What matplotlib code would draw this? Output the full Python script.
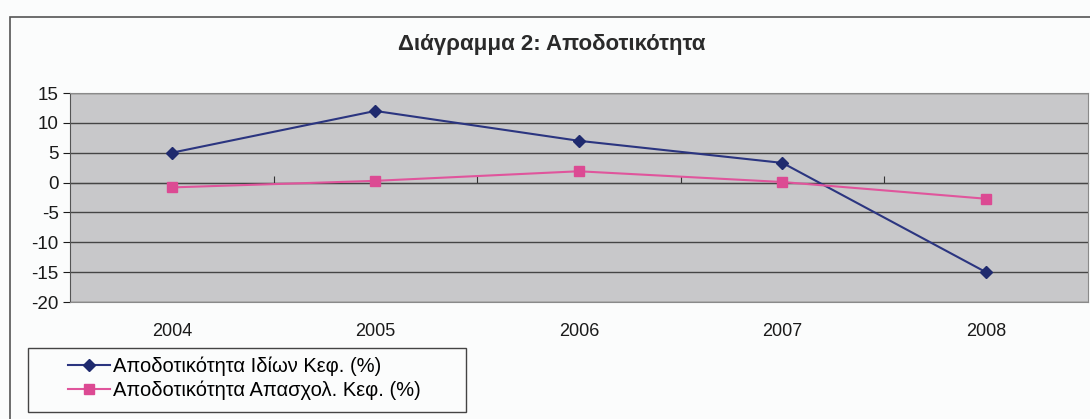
import matplotlib
matplotlib.use("Agg")
import matplotlib.pyplot as plt
from matplotlib.patches import Rectangle

plt.rcParams["font.family"] = ["Liberation Sans", "DejaVu Sans"]
plt.rcParams["axes.unicode_minus"] = False

years = ["2004", "2005", "2006", "2007", "2008"]
roe = [5.0, 12.0, 7.0, 3.3, -15.0]
roce = [-0.8, 0.3, 1.9, 0.1, -2.7]
series_labels = ["Αποδοτικότητα Ιδίων Κεφ. (%)", "Αποδοτικότητα Απασχολ. Κεφ. (%)"]
title = "Διάγραμμα 2: Αποδοτικότητα"
yticks = [15, 10, 5, 0, -5, -10, -15, -20]

fig = plt.figure(figsize=(10.9, 4.19), dpi=100)
fig.patch.set_facecolor("#fbfcfc")
ax = fig.add_axes([0.0642, 0.279, 0.9338, 0.499])
ax.set_facecolor("#c8c8ca")

x = list(range(len(years)))
ax.plot(x, roe, color="#2b3580", lw=1.5, marker="D", ms=6, mfc="#1f2a6e", mec="#1f2a6e",
        label=series_labels[0])
ax.plot(x, roce, color="#e0559c", lw=1.5, marker="s", ms=6.5, mfc="#dc4a93", mec="#dc4a93",
        label=series_labels[1])

ax.set_xlim(-0.5, len(years) - 0.5)
ax.set_ylim(min(yticks), max(yticks))
ax.set_yticks(yticks)
ax.yaxis.grid(True, color="#454545", lw=1.0)
ax.set_axisbelow(True)
ax.set_xticks(x)
ax.set_xticklabels(years)
ax.tick_params(axis="x", length=0, labelsize=13, pad=15, colors="#1a1a1a")
ax.tick_params(axis="y", length=5, labelsize=13.5, colors="#1a1a1a", width=0.8, pad=3)
for side in ["top", "right", "bottom"]:
    ax.spines[side].set_color("#8a8a8a")
    ax.spines[side].set_linewidth(0.8)
ax.spines["left"].set_color("#555555")

# category axis crossing at zero, with ticks between categories
zero_frac = (0 - min(yticks)) / (max(yticks) - min(yticks))
sec = ax.secondary_xaxis(zero_frac)
sec.set_xticks([i + 0.5 for i in x[:-1]])
sec.set_xticklabels([])
sec.tick_params(direction="out", length=5, color="#333333", width=0.8)
sec.spines["bottom"].set_visible(False)

fig.text(0.506, 0.893, title, ha="center", va="center", fontsize=16, fontweight="bold",
         color="#2a2a2a")

# legend entries without frame, box drawn separately (Excel-style wide box)
leg = fig.legend(loc="lower left", bbox_to_anchor=(0.062, 0.045), fontsize=14.5,
                 frameon=False, handlelength=2.1, handletextpad=0.15, borderpad=0,
                 labelspacing=0.25, borderaxespad=0)
fig.add_artist(Rectangle((28 / 1090, 7 / 419), 438 / 1090, 64 / 419, transform=fig.transFigure,
                         facecolor="#fbfcfc", edgecolor="#444444", lw=1.0, zorder=0))

fig.add_artist(Rectangle((0.009, -0.01), 1.02, 0.97, transform=fig.transFigure,
                         fill=False, edgecolor="#555555", lw=1.2))

fig.savefig("out.png", dpi=100)
